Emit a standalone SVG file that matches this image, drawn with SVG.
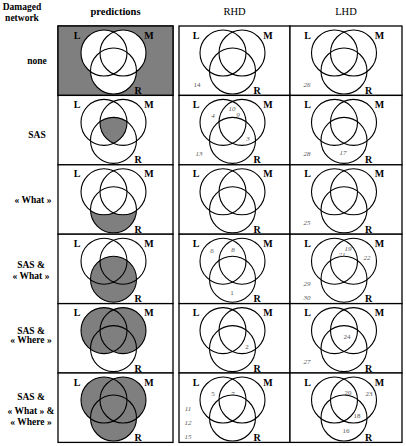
<svg xmlns="http://www.w3.org/2000/svg" width="406" height="446" viewBox="0 0 406 446" font-family="'Liberation Serif','Times New Roman','DejaVu Serif',serif">
<style>
text{font-family:"Liberation Serif","Times New Roman","DejaVu Serif",serif}
.hd{font-size:10.5px;font-weight:bold;text-anchor:middle}
.hr{font-size:10.5px;text-anchor:middle}
.rl{font-size:9.5px;font-weight:bold;text-anchor:middle}
.lb{font-size:10px;font-weight:bold;text-anchor:middle}
.n{font-size:7px;fill:#555;text-anchor:middle}
.i{font-style:italic}
.cell{fill:#fff;stroke:#000;stroke-width:1.3}
.c{fill:none;stroke:#000;stroke-width:1.1}
.sh{fill:#7f7f7f}
</style>
<defs>
<clipPath id="cL"><circle cx="-11.5" cy="27" r="23"/></clipPath>
<clipPath id="cM"><circle cx="7.5" cy="27" r="23"/></clipPath>
<mask id="mR" maskUnits="userSpaceOnUse" x="-60" y="0" width="120" height="70">
<rect x="-60" y="0" width="120" height="70" fill="#fff"/>
<circle cx="-11.5" cy="27" r="23" fill="#000"/>
<circle cx="7.5" cy="27" r="23" fill="#000"/>
</mask>
<g id="venn" class="c">
<circle cx="-11.5" cy="27" r="23"/>
<circle cx="7.5" cy="27" r="23"/>
<circle cx="-2" cy="45" r="23"/>
</g>
<g id="lbl">
<text class="lb" x="-38.5" y="12.5">L</text>
<text class="lb" x="33.5" y="12.5">M</text>
<text class="lb" x="22.5" y="68">R</text>
</g>
<rect id="pc" class="cell" x="-57.5" y="0" width="115" height="69.4"/>
<rect id="rc" class="cell" x="-55.5" y="0" width="111" height="69.4"/>
<rect id="lc" class="cell" x="-56" y="0" width="112" height="69.4"/>
</defs>

<g id="headers">
<text class="rl" x="22" y="10">Damaged</text>
<text class="rl" x="22" y="21">network</text>
<text class="hd" x="115.5" y="15">predictions</text>
<text class="hr" x="234.5" y="15">RHD</text>
<text class="hr" x="346" y="15">LHD</text>
</g>

<g id="row-labels">
<text class="rl" x="37" y="64">none</text>
<text class="rl" x="37" y="138">SAS</text>
<text class="rl" x="33" y="203">« What »</text>
<text class="rl" x="31" y="268">SAS &amp;</text>
<text class="rl" x="31" y="279">« What »</text>
<text class="rl" x="31" y="334">SAS &amp;</text>
<text class="rl" x="31" y="343">« Where »</text>
<text class="rl" x="31" y="400">SAS &amp;</text>
<text class="rl" x="31" y="414">« What » &amp;</text>
<text class="rl" x="31" y="425">« Where »</text>
</g>

<!-- Row 1: none -->
<g id="pred-none" transform="translate(115.5,26)">
<use href="#pc"/>
<rect class="sh" x="-57.5" y="0" width="115" height="69.4"/>
<g fill="#fff"><circle cx="-11.5" cy="27" r="23"/><circle cx="7.5" cy="27" r="23"/><circle cx="-2" cy="45" r="23"/></g>
<rect x="-57.5" y="0" width="115" height="69.4" fill="none" stroke="#000" stroke-width="1.3"/>
<use href="#venn"/><use href="#lbl"/>
</g>
<g id="rhd-none" transform="translate(234.5,26)"><use href="#rc"/><use href="#venn"/><use href="#lbl"/></g>
<g id="lhd-none" transform="translate(346,26)"><use href="#lc"/><use href="#venn"/><use href="#lbl"/></g>

<!-- Row 2: SAS -->
<g id="pred-sas" transform="translate(115.5,95.4)">
<use href="#pc"/>
<g clip-path="url(#cL)"><circle class="sh" cx="-2" cy="45" r="23" clip-path="url(#cM)"/></g>
<use href="#venn"/><use href="#lbl"/>
</g>
<g id="rhd-sas" transform="translate(234.5,95.4)"><use href="#rc"/><use href="#venn"/><use href="#lbl"/></g>
<g id="lhd-sas" transform="translate(346,95.4)"><use href="#lc"/><use href="#venn"/><use href="#lbl"/></g>

<!-- Row 3: What -->
<g id="pred-what" transform="translate(115.5,164.8)">
<use href="#pc"/>
<circle class="sh" cx="-2" cy="45" r="23" mask="url(#mR)"/>
<use href="#venn"/><use href="#lbl"/>
</g>
<g id="rhd-what" transform="translate(234.5,164.8)"><use href="#rc"/><use href="#venn"/><use href="#lbl"/></g>
<g id="lhd-what" transform="translate(346,164.8)"><use href="#lc"/><use href="#venn"/><use href="#lbl"/></g>

<!-- Row 4: SAS & What -->
<g id="pred-sas-what" transform="translate(115.5,234.2)">
<use href="#pc"/>
<circle class="sh" cx="-2" cy="45" r="23"/>
<use href="#venn"/><use href="#lbl"/>
</g>
<g id="rhd-sas-what" transform="translate(234.5,234.2)"><use href="#rc"/><use href="#venn"/><use href="#lbl"/></g>
<g id="lhd-sas-what" transform="translate(346,234.2)"><use href="#lc"/><use href="#venn"/><use href="#lbl"/></g>

<!-- Row 5: SAS & Where -->
<g id="pred-sas-where" transform="translate(115.5,303.6)">
<use href="#pc"/>
<g class="sh"><circle cx="-11.5" cy="27" r="23"/><circle cx="7.5" cy="27" r="23"/></g>
<use href="#venn"/><use href="#lbl"/>
</g>
<g id="rhd-sas-where" transform="translate(234.5,303.6)"><use href="#rc"/><use href="#venn"/><use href="#lbl"/></g>
<g id="lhd-sas-where" transform="translate(346,303.6)"><use href="#lc"/><use href="#venn"/><use href="#lbl"/></g>

<!-- Row 6: SAS & What & Where -->
<g id="pred-all" transform="translate(115.5,373)">
<use href="#pc"/>
<g class="sh"><circle cx="-11.5" cy="27" r="23"/><circle cx="7.5" cy="27" r="23"/><circle cx="-2" cy="45" r="23"/></g>
<use href="#venn"/><use href="#lbl"/>
</g>
<g id="rhd-all" transform="translate(234.5,373)"><use href="#rc"/><use href="#venn"/><use href="#lbl"/></g>
<g id="lhd-all" transform="translate(346,373)"><use href="#lc"/><use href="#venn"/><use href="#lbl"/></g>

<g id="numbers">
<text class="n" x="197" y="86.5">14</text>
<text class="n i" x="307" y="86.5">26</text>
<text class="n i" x="213" y="117.5">4</text>
<text class="n i" x="232" y="111">10</text>
<text class="n i" x="238" y="116.5">9</text>
<text class="n i" x="248" y="140.5">3</text>
<text class="n i" x="199" y="155.5">13</text>
<text class="n i" x="307" y="155.5">28</text>
<text class="n i" x="343" y="155">17</text>
<text class="n i" x="307" y="225">25</text>
<text class="n i" x="212" y="252.5">6</text>
<text class="n i" x="233" y="251.5">8</text>
<text class="n" x="232" y="294.5">1</text>
<text class="n i" x="348" y="250.5">19</text>
<text class="n i" x="342" y="256.5">21</text>
<text class="n i" x="367" y="259.5">22</text>
<text class="n i" x="307" y="285.5">29</text>
<text class="n i" x="307" y="299.5">30</text>
<text class="n" x="247" y="348.5">2</text>
<text class="n" x="347" y="338.5">24</text>
<text class="n i" x="307" y="363.5">27</text>
<text class="n" x="213" y="395.5">5</text>
<text class="n" x="233" y="395.5">7</text>
<text class="n i" x="188" y="410.5">11</text>
<text class="n i" x="188" y="424.5">12</text>
<text class="n i" x="188" y="438.5">15</text>
<text class="n" x="348" y="394.5">20</text>
<text class="n" x="369" y="395.5">23</text>
<text class="n" x="357" y="417.5">18</text>
<text class="n" x="346" y="432.5">16</text>
</g>
</svg>
